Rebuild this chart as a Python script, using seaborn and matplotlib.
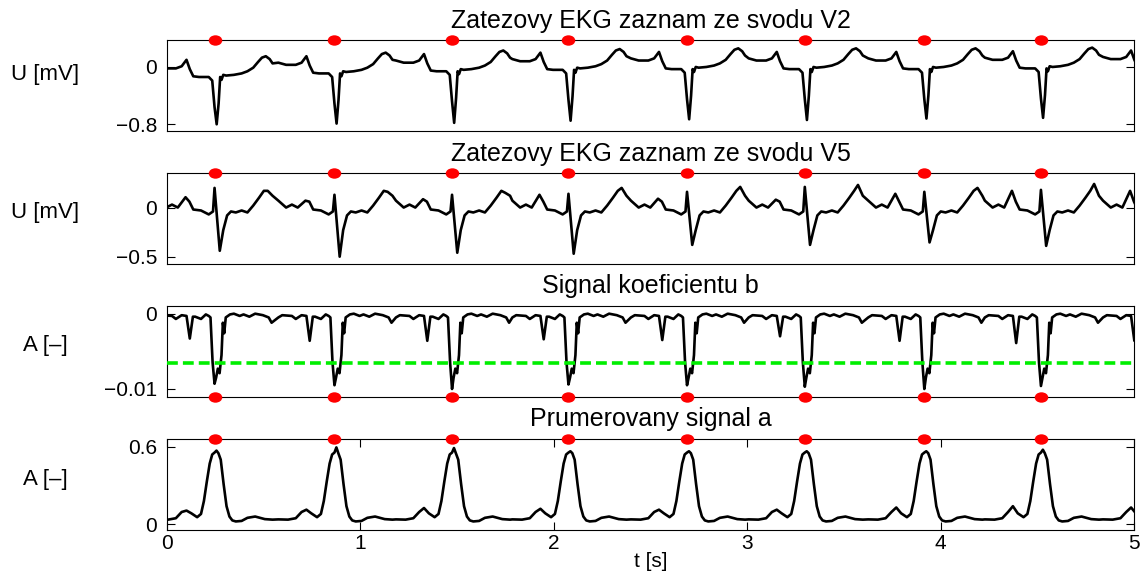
'''
Zatezove EKG - svody V2, V5, koeficient b a prumerovany signal a
'''

import numpy as np
import matplotlib.pyplot as plt
import seaborn as sns
from matplotlib.markers import MarkerStyle
from matplotlib.transforms import Affine2D

# detekovane R vlny [s] (cervene znacky)
beat_times = [0.246, 0.866, 1.474, 2.076, 2.689, 3.298, 3.916, 4.519]
next_beat = 5.13  # dalsi uder za oknem, vidi se jen jeho zacatek

# svod V2 - tvar jednoho uderu: posun od detekce [s], napeti [mV]
v2_offsets = [-0.29, -0.25, -0.20, -0.17, -0.145, -0.128, -0.11, -0.08, -0.03,
              -0.012, 0.0, 0.011, 0.021, 0.029, 0.036, 0.045, 0.06, 0.10,
              0.14, 0.17, 0.20, 0.225, 0.245, 0.265, 0.285, 0.30]
v2_shape = [0.12, 0.09, 0.09, 0.12, 0.21, 0.08, -0.02, -0.03, -0.03,
            -0.08, -0.45, -0.75, -0.40, -0.03, -0.07, 0.0, -0.01, 0.0,
            0.02, 0.05, 0.10, 0.18, 0.24, 0.26, 0.22, 0.16]
v2_drift = [-0.11, -0.06, -0.03, -0.01, 0.0, 0.0, 0.0, 0.01, 0.02]
v2_s = [-0.80, -0.79, -0.78, -0.75, -0.73, -0.74, -0.72, -0.71]

# svod V5
v5_offsets = [-0.29, -0.25, -0.22, -0.19, -0.15, -0.13, -0.11, -0.07, -0.03,
              -0.008, 0.0, 0.027, 0.045, 0.065, 0.085, 0.11, 0.14, 0.17,
              0.20, 0.23, 0.255, 0.275, 0.30]
v5_shape = [0.07, 0.0, 0.03, 0.0, 0.09, 0.06, -0.02, -0.03, -0.07,
            -0.04, 0.16, -0.40, -0.23, -0.08, -0.04, -0.05, -0.03, -0.05,
            0.02, 0.10, 0.17, 0.20, 0.12]
v5_p = [0.105, 0.07, 0.085, 0.13, 0.09, 0.08, 0.14, 0.17, 0.17]
v5_r = [0.20, 0.13, 0.13, 0.14, 0.16, 0.21, 0.16, 0.18]
v5_s = [-0.44, -0.50, -0.46, -0.47, -0.38, -0.38, -0.355, -0.39]
v5_t = [0.17, 0.16, 0.15, 0.20, 0.21, 0.23, 0.20, 0.24]

# koeficient b [1e-3]
b_offsets = [-0.29, -0.27, -0.22, -0.20, -0.17, -0.145, -0.128, -0.112, -0.10,
             -0.07, -0.045, -0.03, -0.021, -0.010, 0.0, 0.008, 0.017, 0.026,
             0.036, 0.043, 0.050, 0.058, 0.08, 0.10, 0.13, 0.15, 0.18, 0.21,
             0.25, 0.28, 0.295]
b_shape = [-0.5, -0.2, -0.3, -0.7, -0.2, -0.3, -3.5, -0.4, -0.4,
           -0.7, -0.1, -0.3, -0.5, -6.5, -9.5, -8.5, -7.3, -7.9,
           -5.5, -1.2, -2.6, -0.5, -0.1, 0.0, -0.3, -0.1, -0.4, 0.0,
           -0.2, -0.5, -1.2]
b_dip = [-3.3, -3.6, -3.6, -3.4, -3.5, -3.0, -3.6, -3.9, -3.6]
b_min = [-9.3, -9.5, -10.0, -9.4, -9.5, -9.7, -10.0, -9.6]
b_threshold = -0.0066

# prumerovany signal a
a_offsets = [-0.29, -0.24, -0.20, -0.17, -0.145, -0.12, -0.09, -0.07, -0.055,
             -0.04, -0.025, -0.012, 0.0, 0.01, 0.02, 0.032, 0.047, 0.062,
             0.077, 0.092, 0.11, 0.14, 0.17, 0.21, 0.26, 0.30]
a_shape = [0.038, 0.036, 0.047, 0.095, 0.11, 0.085, 0.055, 0.08, 0.18,
           0.33, 0.47, 0.54, 0.555, 0.58, 0.55, 0.50, 0.31, 0.14,
           0.06, 0.03, 0.022, 0.026, 0.05, 0.06, 0.04, 0.036]
a_bump = [0.106, 0.113, 0.126, 0.12, 0.113, 0.113, 0.13, 0.14, 0.13]
a_peak = [0.57, 0.595, 0.59, 0.565, 0.565, 0.565, 0.565, 0.577]


def beat_train(offsets, shape, picks, drift=None):
    # poskladani uderu za sebou podle detekci
    t, v = [], []
    for i, m in enumerate(beat_times + [next_beat]):
        vals = list(shape)
        if drift is not None:
            vals = [x + drift[i] for x in vals]
        for idx, series in picks.items():
            vals[idx] = series[min(i, len(series) - 1)]
        t += [m + o for o in offsets]
        v += vals
    return np.array(t), np.array(v)


t_v2, u_v2 = beat_train(v2_offsets, v2_shape, {11: v2_s}, v2_drift)
t_v5, u_v5 = beat_train(v5_offsets, v5_shape, {4: v5_p, 10: v5_r, 11: v5_s, 21: v5_t})
t_b, u_b = beat_train(b_offsets, b_shape, {6: b_dip, 14: b_min})
u_b = u_b * 1e-3
t_a, u_a = beat_train(a_offsets, a_shape, {4: a_bump, 13: a_peak})

sns.set_style('ticks')
plt.rcParams['font.family'] = ['Liberation Sans', 'DejaVu Sans']
plt.rcParams['text.color'] = 'black'
plt.rcParams['axes.labelcolor'] = 'black'
plt.rcParams['xtick.color'] = 'black'
plt.rcParams['ytick.color'] = 'black'

fig = plt.figure(figsize=(11.46, 5.74), dpi=100)
left, width, height = 0.1457, 0.8438, 0.1585
ax1 = fig.add_axes([left, 0.771, width, height])
ax2 = fig.add_axes([left, 0.540, width, height])
ax3 = fig.add_axes([left, 0.3084, width, height])
ax4 = fig.add_axes([left, 0.0767, width, height])

panels = [
    (ax1, t_v2, u_v2, (-0.90, 0.37), [-0.8, 0], ['\u22120.8', '0'],
     'U [mV]', 0.63, 'Zatezovy EKG zaznam ze svodu V2', 'top'),
    (ax2, t_v5, u_v5, (-0.575, 0.351), [-0.5, 0], ['\u22120.5', '0'],
     'U [mV]', 0.57, 'Zatezovy EKG zaznam ze svodu V5', 'top'),
    (ax3, t_b, u_b, (-0.01106, 0.00102), [-0.01, 0], ['\u22120.01', '0'],
     'A [\u2013]', 0.57, 'Signal koeficientu b', 'bottom'),
    (ax4, t_a, u_a, (-0.044, 0.66), [0, 0.6], ['0', '0.6'],
     'A [\u2013]', 0.56, 'Prumerovany signal a', 'top'),
]

mark = MarkerStyle('o', transform=Affine2D().scale(1.3, 1.0))

for ax, t, u, ylim, yt, ytl, ylab, ylab_y, title, mark_side in panels:
    if ax is ax3:
        ax.axhline(b_threshold, color='#00ee00', linestyle='--', linewidth=2.6,
                   dashes=(3, 1.4), zorder=3)
    sns.lineplot(x=t, y=u, ax=ax, color='black', linewidth=1.9,
                 sort=False, estimator=None, zorder=2)
    ax.set_xlim(0, 5)
    ax.set_ylim(*ylim)
    mark_y = ylim[1] if mark_side == 'top' else ylim[0]
    ax.plot(beat_times, [mark_y] * len(beat_times), linestyle='none',
            marker=mark, markersize=7.5, color='red', markeredgewidth=0,
            clip_on=False, zorder=5)
    ax.set_yticks(yt)
    ax.set_yticklabels(ytl)
    ax.set_ylabel(ylab, rotation=0, ha='center', va='center', fontsize=16)
    ax.yaxis.set_label_coords(-0.126, ylab_y)
    ax.set_title(title, fontsize=18, pad=9)
    ax.tick_params(axis='y', direction='in', length=6, width=0.8,
                   left=True, right=True, labelsize=15, pad=7)
    for s in ax.spines.values():
        s.set_linewidth(0.8)
        s.set_color('black')

for ax in (ax1, ax2, ax3):
    ax.set_xticks([])
    ax.set_xlabel('')

ax4.set_xticks([0, 1, 2, 3, 4, 5])
ax4.tick_params(axis='x', direction='in', length=6, width=0.8,
                top=True, bottom=True, labelsize=15, pad=3)
ax4.set_xlabel('t [s]', fontsize=15, labelpad=-1)

fig.savefig('out.png', dpi=100)
